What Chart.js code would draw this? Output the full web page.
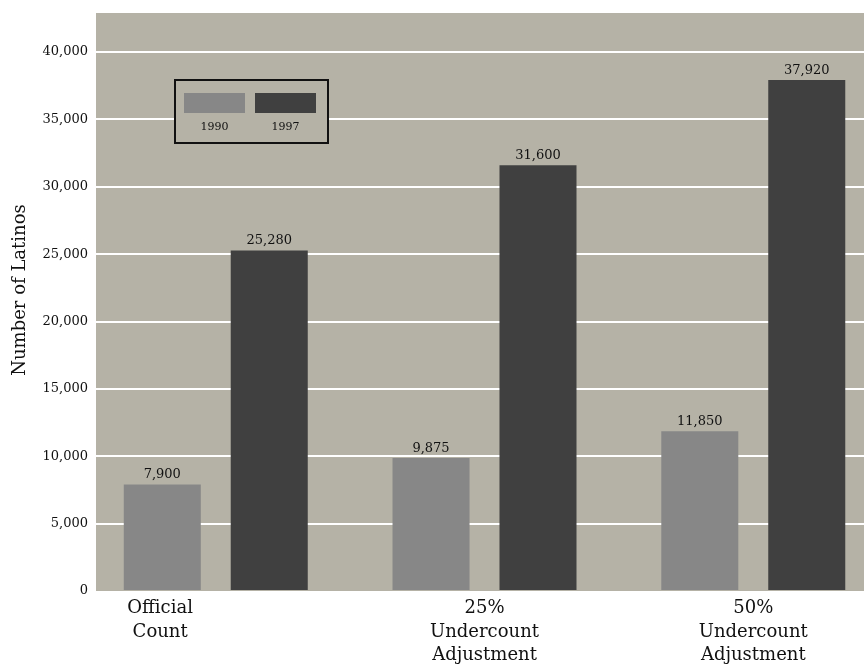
<!DOCTYPE html>
<html>
<head>
<meta charset="utf-8">
<script src="https://cdn.jsdelivr.net/npm/chart.js@4.4.1/dist/chart.umd.min.js"></script>
<style>
html, body { margin: 0; padding: 0; background: #fff; }
</style>
</head>
<body>
<canvas id="chart" width="864" height="667"></canvas>
<script>
const categories = [["Official", "Count"], ["25%", "Undercount", "Adjustment"], ["50%", "Undercount", "Adjustment"]];
const seriesNames = ["1990", "1997"];
const values1990 = [7900, 9875, 11850];
const values1997 = [25280, 31600, 37920];
const yTicks = [0, 5000, 10000, 15000, 20000, 25000, 30000, 35000, 40000];
const yTitle = "Number of Latinos";

const PLOT_BG = "#b5b2a6";
const COLORS = ["#878787", "#404040"];
const SERIF = "'DejaVu Serif', serif";

// label anchors along the x axis (first one sits left of the group, as in the original)
const labelAnchors = [-0.207, 1, 2];

const plotBackground = {
    id: "plotBackground",
    beforeDraw(chart) {
        const a = chart.chartArea;
        const ctx = chart.ctx;
        ctx.save();
        ctx.fillStyle = PLOT_BG;
        ctx.fillRect(a.left, a.top, a.right - a.left, a.bottom - a.top);
        ctx.restore();
    }
};

const barValues = {
    id: "barValues",
    afterDatasetsDraw(chart) {
        const ctx = chart.ctx;
        ctx.save();
        ctx.font = "13px " + SERIF;
        ctx.fillStyle = "#111";
        ctx.textAlign = "center";
        ctx.textBaseline = "bottom";
        chart.data.datasets.forEach((ds, i) => {
            chart.getDatasetMeta(i).data.forEach((bar, j) => {
                ctx.fillText(ds.data[j].y.toLocaleString("en-US"), bar.x, bar.y - 3);
            });
        });
        ctx.restore();
    }
};

// axis title sits a little above the middle of the plot in the original
const axisTitle = {
    id: "axisTitle",
    afterDraw(chart) {
        const a = chart.chartArea;
        const ctx = chart.ctx;
        ctx.save();
        ctx.translate(20, (a.top + a.bottom) / 2 - 12);
        ctx.rotate(-Math.PI / 2);
        ctx.font = "18px " + SERIF;
        ctx.fillStyle = "#111";
        ctx.textAlign = "center";
        ctx.textBaseline = "middle";
        ctx.fillText(yTitle, 0, 0);
        ctx.restore();
    }
};

const boxLegend = {
    id: "boxLegend",
    afterDraw(chart) {
        const a = chart.chartArea;
        const ctx = chart.ctx;
        const x = a.left + 79, y = a.top + 67, w = 153, h = 63;
        ctx.save();
        ctx.fillStyle = PLOT_BG;
        ctx.fillRect(x, y, w, h);
        ctx.strokeStyle = "#111";
        ctx.lineWidth = 2;
        ctx.strokeRect(x, y, w, h);
        ctx.font = "11px " + SERIF;
        ctx.textAlign = "center";
        ctx.textBaseline = "middle";
        seriesNames.forEach((name, i) => {
            const sx = x + 9 + i * 71;
            ctx.fillStyle = COLORS[i];
            ctx.fillRect(sx, y + 13, 61, 20);
            ctx.fillStyle = "#111";
            ctx.fillText(name, sx + 30.5, y + 47);
        });
        ctx.restore();
    }
};

const datasets = [values1990, values1997].map((vals, i) => ({
    label: seriesNames[i],
    data: vals.map((v, j) => ({ x: j, y: v })),
    backgroundColor: COLORS[i],
    borderWidth: 0,
    categoryPercentage: 0.796,
    barPercentage: 0.72
}));

new Chart(document.getElementById("chart"), {
    type: "bar",
    data: { datasets: datasets },
    options: {
        responsive: false,
        animation: false,
        layout: { padding: { top: 13, right: 0, left: 0, bottom: 0 } },
        plugins: {
            legend: { display: false },
            tooltip: { enabled: false }
        },
        scales: {
            x: {
                type: "linear",
                offset: false,
                min: -0.4456,
                max: 2.412,
                grid: { display: false, drawTicks: false },
                border: { display: false },
                afterBuildTicks: scale => {
                    scale.ticks = labelAnchors.map(v => ({ value: v }));
                },
                afterFit: scale => { scale.height = 76; },
                ticks: {
                    autoSkip: false,
                    maxRotation: 0,
                    padding: 6,
                    color: "#111",
                    font: { family: SERIF, size: 18, lineHeight: 1.3 },
                    callback: (value, index) => categories[index]
                }
            },
            y: {
                min: 0,
                max: 42900,
                grid: {
                    drawTicks: false,
                    lineWidth: 2,
                    color: ctx => (ctx.tick && ctx.tick.value === 0) ? "rgba(0,0,0,0)" : "#ffffff"
                },
                border: { display: false },
                afterBuildTicks: scale => {
                    scale.ticks = yTicks.map(v => ({ value: v }));
                },
                afterFit: scale => {
                    scale.width = 96;
                    scale.paddingTop = 0;
                    scale.paddingBottom = 0;
                },
                ticks: {
                    padding: 8,
                    color: "#111",
                    font: { family: SERIF, size: 13 },
                    callback: value => value.toLocaleString("en-US")
                }
            }
        }
    },
    plugins: [plotBackground, barValues, axisTitle, boxLegend]
});
</script>
</body>
</html>
